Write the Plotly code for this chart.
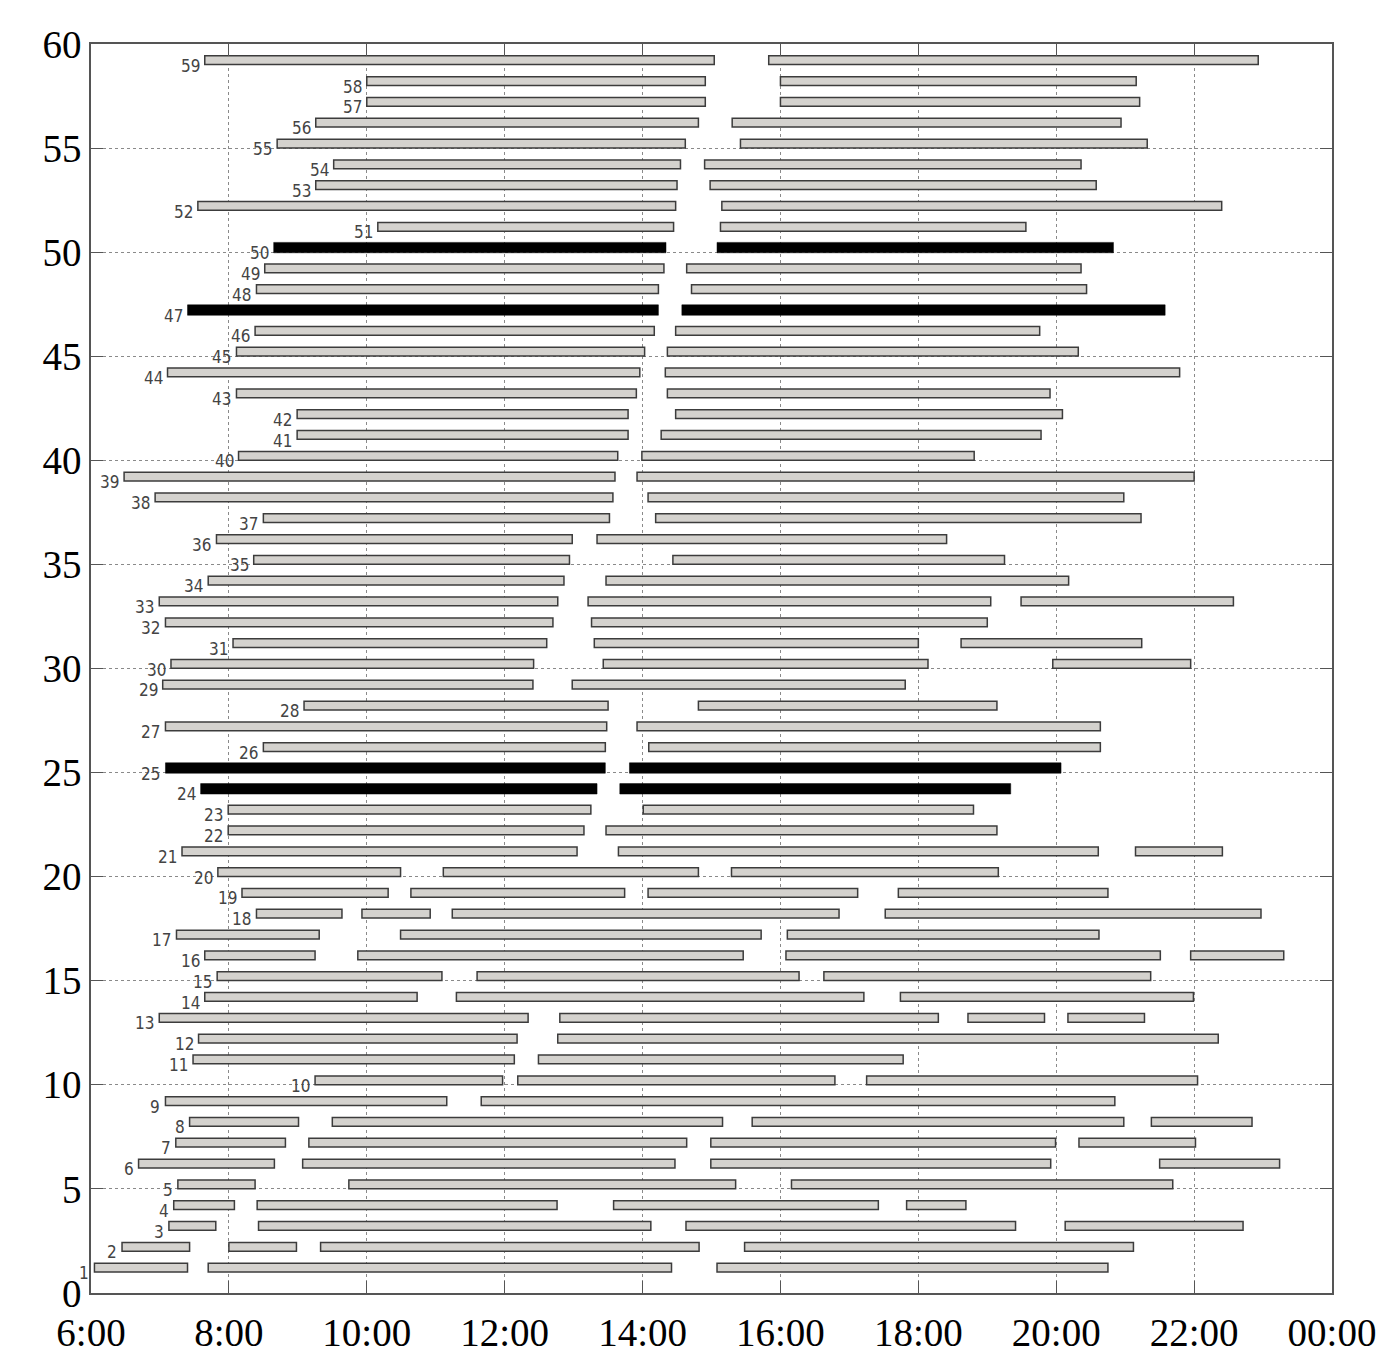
import plotly.graph_objects as go

# shift segments per row (hours of day)
seg_starts = [
    [6.05, 7.70, 15.08],            # 1
    [6.45, 8.00, 9.33, 15.48],      # 2
    [7.13, 8.43, 14.63, 20.13],     # 3
    [7.20, 8.41, 13.58, 17.83],     # 4
    [7.26, 9.74, 16.16],            # 5
    [6.69, 9.07, 14.99, 21.50],     # 6
    [7.23, 9.16, 14.99, 20.33],     # 7
    [7.43, 9.50, 15.59, 21.38],     # 8
    [7.08, 11.66],                  # 9
    [9.25, 12.19, 17.25],           # 10
    [7.48, 12.49],                  # 11
    [7.56, 12.77],                  # 12
    [6.99, 12.80, 18.72, 20.17],    # 13
    [7.65, 11.30, 17.74],           # 14
    [7.83, 11.60, 16.63],           # 15
    [7.65, 9.87, 16.08, 21.95],     # 16
    [7.24, 10.49, 16.10],           # 17
    [8.40, 9.93, 11.24, 17.52],     # 18
    [8.19, 10.64, 14.08, 17.71],    # 19
    [7.84, 11.11, 15.29],           # 20
    [7.32, 13.65, 21.15],           # 21
    [7.99, 13.47],                  # 22
    [7.99, 14.01],                  # 23
    [7.59, 13.67],                  # 24
    [7.08, 13.81],                  # 25
    [8.50, 14.09],                  # 26
    [7.08, 13.92],                  # 27
    [9.09, 14.81],                  # 28
    [7.04, 12.98],                  # 29
    [7.16, 13.43, 19.95],           # 30
    [8.06, 13.30, 18.62],           # 31
    [7.08, 13.26],                  # 32
    [6.99, 13.21, 19.49],           # 33
    [7.70, 13.47],                  # 34
    [8.36, 14.44],                  # 35
    [7.82, 13.34],                  # 36
    [8.50, 14.19],                  # 37
    [6.93, 14.08],                  # 38
    [6.48, 13.92],                  # 39
    [8.14, 13.99],                  # 40
    [8.99, 14.27],                  # 41
    [8.99, 14.48],                  # 42
    [8.11, 14.36],                  # 43
    [7.11, 14.33],                  # 44
    [8.11, 14.36],                  # 45
    [8.38, 14.48],                  # 46
    [7.40, 14.57],                  # 47
    [8.40, 14.71],                  # 48
    [8.52, 14.64],                  # 49
    [8.65, 15.08],                  # 50
    [10.16, 15.13],                 # 51
    [7.55, 15.15],                  # 52
    [9.26, 14.98],                  # 53
    [9.52, 14.90],                  # 54
    [8.70, 15.42],                  # 55
    [9.26, 15.30],                  # 56
    [10.00, 16.00],                 # 57
    [10.00, 16.00],                 # 58
    [7.65, 15.83],                  # 59
]
seg_ends = [
    [7.40, 14.42, 20.75],           # 1
    [7.43, 8.98, 14.82, 21.12],     # 2
    [7.81, 14.12, 19.41, 22.71],    # 3
    [8.08, 12.76, 17.42, 18.69],    # 4
    [8.38, 15.35, 21.69],           # 5
    [8.66, 14.47, 19.92, 23.24],    # 6
    [8.82, 14.64, 19.99, 22.02],    # 7
    [9.01, 15.16, 20.98, 22.84],    # 8
    [11.16, 20.85],                 # 9
    [11.97, 16.79, 22.05],          # 10
    [12.14, 17.78],                 # 11
    [12.18, 22.35],                 # 12
    [12.34, 18.29, 19.83, 21.28],   # 13
    [10.73, 17.21, 21.99],          # 14
    [11.09, 16.27, 21.37],          # 15
    [9.25, 15.46, 21.51, 23.30],    # 16
    [9.31, 15.72, 20.62],           # 17
    [9.64, 10.92, 16.85, 22.97],    # 18
    [10.31, 13.74, 17.12, 20.75],   # 19
    [10.49, 14.81, 19.16],          # 20
    [13.05, 20.61, 22.41],          # 21
    [13.15, 19.14],                 # 22
    [13.25, 18.80],                 # 23
    [13.34, 19.34],                 # 24
    [13.46, 20.07],                 # 25
    [13.46, 20.64],                 # 26
    [13.48, 20.64],                 # 27
    [13.50, 19.14],                 # 28
    [12.41, 17.81],                 # 29
    [12.42, 18.14, 21.95],          # 30
    [12.61, 18.00, 21.24],          # 31
    [12.70, 19.00],                 # 32
    [12.77, 19.05, 22.57],          # 33
    [12.86, 20.18],                 # 34
    [12.94, 19.25],                 # 35
    [12.98, 18.41],                 # 36
    [13.52, 21.23],                 # 37
    [13.57, 20.98],                 # 38
    [13.60, 22.00],                 # 39
    [13.64, 18.81],                 # 40
    [13.79, 19.78],                 # 41
    [13.79, 20.09],                 # 42
    [13.91, 19.91],                 # 43
    [13.96, 21.79],                 # 44
    [14.03, 20.32],                 # 45
    [14.17, 19.76],                 # 46
    [14.23, 21.58],                 # 47
    [14.23, 20.44],                 # 48
    [14.31, 20.36],                 # 49
    [14.34, 20.83],                 # 50
    [14.45, 19.56],                 # 51
    [14.48, 22.40],                 # 52
    [14.50, 20.58],                 # 53
    [14.55, 20.36],                 # 54
    [14.62, 21.32],                 # 55
    [14.81, 20.94],                 # 56
    [14.91, 21.21],                 # 57
    [14.91, 21.16],                 # 58
    [15.04, 22.93],                 # 59
]
highlight_rows = [24, 25, 47, 50]

x_ticks = [6, 8, 10, 12, 14, 16, 18, 20, 22, 24]
x_labels = ["6:00", "8:00", "10:00", "12:00", "14:00", "16:00", "18:00", "20:00", "22:00", "00:00"]
y_ticks = list(range(0, 61, 5))

# flatten into bar inputs
gray = dict(y=[], base=[], x=[])
black = dict(y=[], base=[], x=[])
for i, (ss, ee) in enumerate(zip(seg_starts, seg_ends)):
    row = i + 1
    tgt = black if row in highlight_rows else gray
    for s, e in zip(ss, ee):
        tgt["y"].append(row + 0.22)
        tgt["base"].append(s)
        tgt["x"].append(e - s)

fig = go.Figure()
fig.add_trace(go.Bar(orientation="h", y=gray["y"], base=gray["base"], x=gray["x"],
                     width=0.42, marker=dict(color="#d4d2ce", line=dict(color="#3c3c3c", width=1.5)),
                     showlegend=False))
fig.add_trace(go.Bar(orientation="h", y=black["y"], base=black["base"], x=black["x"],
                     width=0.5, marker=dict(color="black", line=dict(color="black", width=0.5)),
                     showlegend=False))

# row numbers left of each first segment
for i, ss in enumerate(seg_starts):
    fig.add_annotation(x=ss[0], y=i + 1, text=str(i + 1), showarrow=False,
                       xanchor="right", yanchor="middle", xshift=-3, yshift=-1,
                       font=dict(family="Liberation Sans Narrow, DejaVu Sans Condensed, Arial Narrow",
                                 size=17, color="#444"))

axis_common = dict(showgrid=True, gridcolor="#8a8a8a", griddash="dot", gridwidth=1,
                   showline=True, linecolor="#555", linewidth=1.5, mirror="ticks",
                   ticks="inside", ticklen=12, tickcolor="#555", zeroline=False, automargin=False,
                   tickfont=dict(family="Liberation Serif, Times New Roman, serif", size=39, color="black"))
fig.update_xaxes(range=[6, 24], tickvals=x_ticks, ticktext=x_labels, ticklabelstandoff=4, **axis_common)
fig.update_yaxes(range=[0, 60], tickvals=y_ticks, ticklabelstandoff=0, **axis_common)

fig.update_layout(width=1394, height=1360, barmode="overlay",
                  margin=dict(l=83, r=70, t=36, b=75),
                  plot_bgcolor="white", paper_bgcolor="white")
fig.write_html("out.html")
